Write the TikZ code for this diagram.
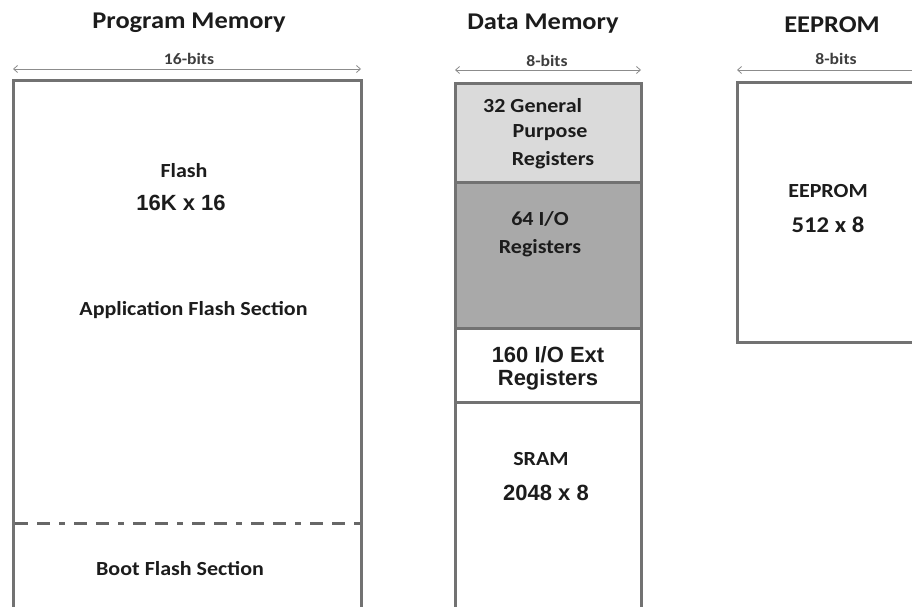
\documentclass[tikz,border=0pt]{standalone}
\usepackage{fontspec}
\setmainfont{Carlito}[FakeStretch=1.1]
\newfontfamily\arialf{Liberation Sans}
\usetikzlibrary{arrows.meta}
\definecolor{edge}{HTML}{727272}
\definecolor{arr}{HTML}{8C8C8C}
\definecolor{lgray}{HTML}{DADADA}
\definecolor{dgray}{HTML}{A9A9A9}
\definecolor{txt}{HTML}{1C1C1C}
\tikzset{
  x=1pt, y=-1pt,
  membox/.style={draw=edge, line width=3pt},
  widtharrow/.style={draw=arr, line width=0.8pt, {Straight Barb[length=4pt,width=7pt]}-{Straight Barb[length=4pt,width=7pt]}},
  title/.style={font=\bfseries\fontsize{24}{28}\selectfont, text=txt, inner sep=0pt, anchor=base},
  bits/.style={font=\bfseries\fontsize{16}{19}\selectfont, text=txt!85, inner sep=0pt, anchor=base},
  lbl/.style={font=\bfseries\fontsize{20}{24}\selectfont, text=txt, inner sep=0pt, anchor=base},
  albl/.style={font=\arialf\bfseries\fontsize{22}{26}\selectfont, text=txt, inner sep=0pt, anchor=base},
}
\begin{document}
\begin{tikzpicture}
\useasboundingbox (0,0) rectangle (912,607);
\fill[white] (0,0) rectangle (912,607);
\clip (0,0) rectangle (912,607);

% ---------- Program Memory ----------
\node[title] (pmt) at (189,29) {Program Memory};
\node[bits] (pmb) at (189,65) {16-bits};
\coordinate (pmL) at (13,69);
\coordinate (pmR) at (361,69);
\draw[widtharrow] (pmL) -- (pmR);
\draw[membox] (13,620) |- (361,81) -- (361,620);
\coordinate (dL) at (15,523);
\coordinate (dR) at (361,523);
\draw[draw=edge!90!black, line width=3pt, dash pattern=on 13pt off 9pt on 13pt off 9pt on 6pt off 9pt] (dL) -- (dR);
\node[lbl] (flash) at (184,177) {Flash};
\node[albl] (fsize) at (181,210) {16K x 16};
\node[lbl] (app) at (193.5,315) {Application Flash Section};
\node[lbl] (boot) at (180,575) {Boot Flash Section};

% ---------- Data Memory ----------
\node[title] (dmt) at (543,30) {Data Memory};
\node[bits] (dmb) at (547,67) {8-bits};
\coordinate (dmL) at (455,70);
\coordinate (dmR) at (641,70);
\draw[widtharrow] (dmL) -- (dmR);
\fill[lgray] (455,84) rectangle (641,182);
\fill[dgray] (455,182) rectangle (641,328);
\draw[membox] (455,620) |- (641,84) -- (641,620);
\draw[membox] (455,182) -- (641,182);
\draw[membox] (455,328) -- (641,328);
\draw[membox] (455,402) -- (641,402);
\node[lbl, anchor=base west] (gp1) at (483,113) {32 General};
\node[lbl] (gp2) at (550,138) {Purpose};
\node[lbl] (gp3) at (553,165) {Registers};
\node[lbl] (io1) at (540,225) {64 I/O};
\node[lbl] (io2) at (540,253) {Registers};
\node[albl] (ext1) at (548,362) {160 I/O Ext};
\node[albl] (ext2) at (548,385) {Registers};
\node[lbl] (sram) at (541,465) {SRAM};
\node[albl] (ssize) at (546,500) {2048 x 8};

% ---------- EEPROM ----------
\node[title] (eet) at (832,33) {EEPROM};
\node[bits] (eeb) at (836,65) {8-bits};
\coordinate (eeL) at (737,70);
\coordinate (eeR) at (930,70);
\draw[widtharrow] (eeL) -- (eeR);
\draw[membox] (930,342) -| (737,83) -- (930,83);
\node[lbl] (ee1) at (828,197) {EEPROM};
\node[lbl, font=\bfseries\fontsize{22.5}{26}\selectfont] (ee2) at (828,232) {512 x 8};
\end{tikzpicture}
\end{document}
